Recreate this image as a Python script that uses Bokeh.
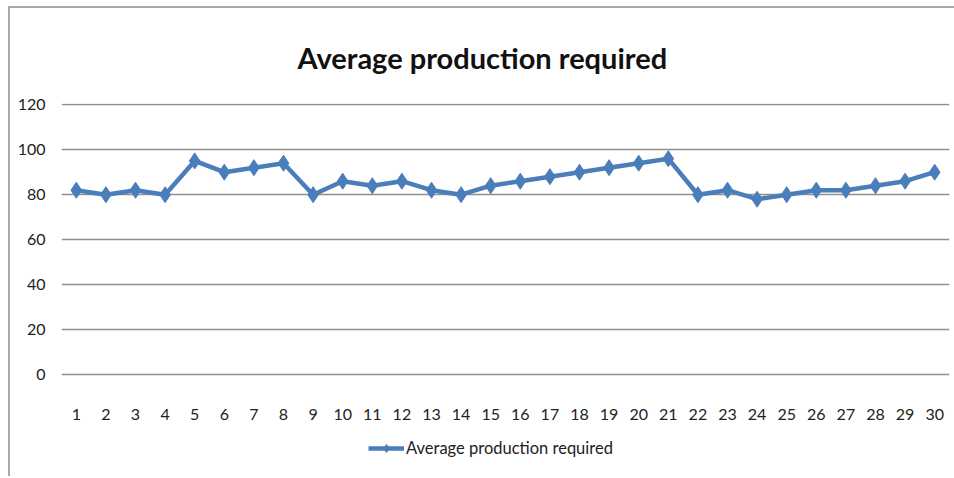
from bokeh.plotting import figure
from bokeh.models import FactorRange, Range1d, Legend, LegendItem, Title
from bokeh.embed import file_html
from bokeh.resources import INLINE

# Day numbers along the x axis and the average production required per day
days = [str(d) for d in range(1, 31)]
production = [82, 80, 82, 80, 95, 90, 92, 94, 80, 86,
              84, 86, 82, 80, 84, 86, 88, 90, 92, 94,
              96, 80, 82, 78, 80, 82, 82, 84, 86, 90]
y_ticks = [0, 20, 40, 60, 80, 100, 120]
series_name = "Average production required"
chart_title = "Average production required"

FONT = "Lato"
BLUE = "#4a7ebb"
GRID = "#8f8f8f"

# The frame runs down to the bottom edge so the category labels and the
# legend can sit underneath the value 0 inside it.
p = figure(
    width=946, height=470,
    x_range=FactorRange(*days, range_padding=0),
    y_range=Range1d(-46, 120.5),
    output_backend="svg", toolbar_location=None,
    min_border_left=51, min_border_right=7,
    min_border_top=90, min_border_bottom=0,
)
p.margin = (6, 0, 0, 8)
p.styles = {"border-top": "2px solid #a8a8a8", "border-left": "2px solid #a8a8a8"}
p.outline_line_color = None
p.background_fill_color = "white"
p.border_fill_color = "white"

p.title = Title(text=chart_title, align="left", offset=236,
                text_font=FONT, text_font_size="29px", text_font_style="bold",
                text_line_height=0.8, text_color="#111111", standoff=58)

# Category axis pinned to the value 0; no axis lines or ticks, only labels
p.xaxis.fixed_location = 0
p.xaxis.axis_line_color = None
p.xaxis.major_tick_line_color = None
p.xaxis.minor_tick_line_color = None
p.xaxis.major_label_standoff = 28
p.xaxis.major_label_text_font = FONT
p.xaxis.major_label_text_font_size = "16px"
p.xaxis.major_label_text_color = "#222222"

p.yaxis.axis_line_color = None
p.yaxis.major_tick_line_color = None
p.yaxis.minor_tick_line_color = None
p.yaxis.ticker = y_ticks
p.yaxis.major_label_standoff = 10
p.yaxis.major_label_text_font = FONT
p.yaxis.major_label_text_font_size = "16px"
p.yaxis.major_label_text_color = "#222222"

p.xgrid.grid_line_color = None
p.ygrid.grid_line_color = GRID
p.ygrid.grid_line_width = 1.6
p.ygrid.ticker = y_ticks

line = p.line(days, production, line_color=BLUE, line_width=4.5)
pts = p.scatter(days, production, marker="diamond", size=16,
                fill_color=BLUE, line_color=BLUE)

legend = Legend(
    items=[LegendItem(label=series_name, renderers=[line, pts])],
    location=(307, 20),
    border_line_color=None, background_fill_alpha=0,
    padding=0, margin=0, spacing=0,
    glyph_width=36, glyph_height=20, label_height=20, label_standoff=2,
    label_text_font=FONT, label_text_font_size="16.5px", label_text_color="#222222",
)
p.add_layout(legend)

open("out.html", "w").write(file_html(p, INLINE))
